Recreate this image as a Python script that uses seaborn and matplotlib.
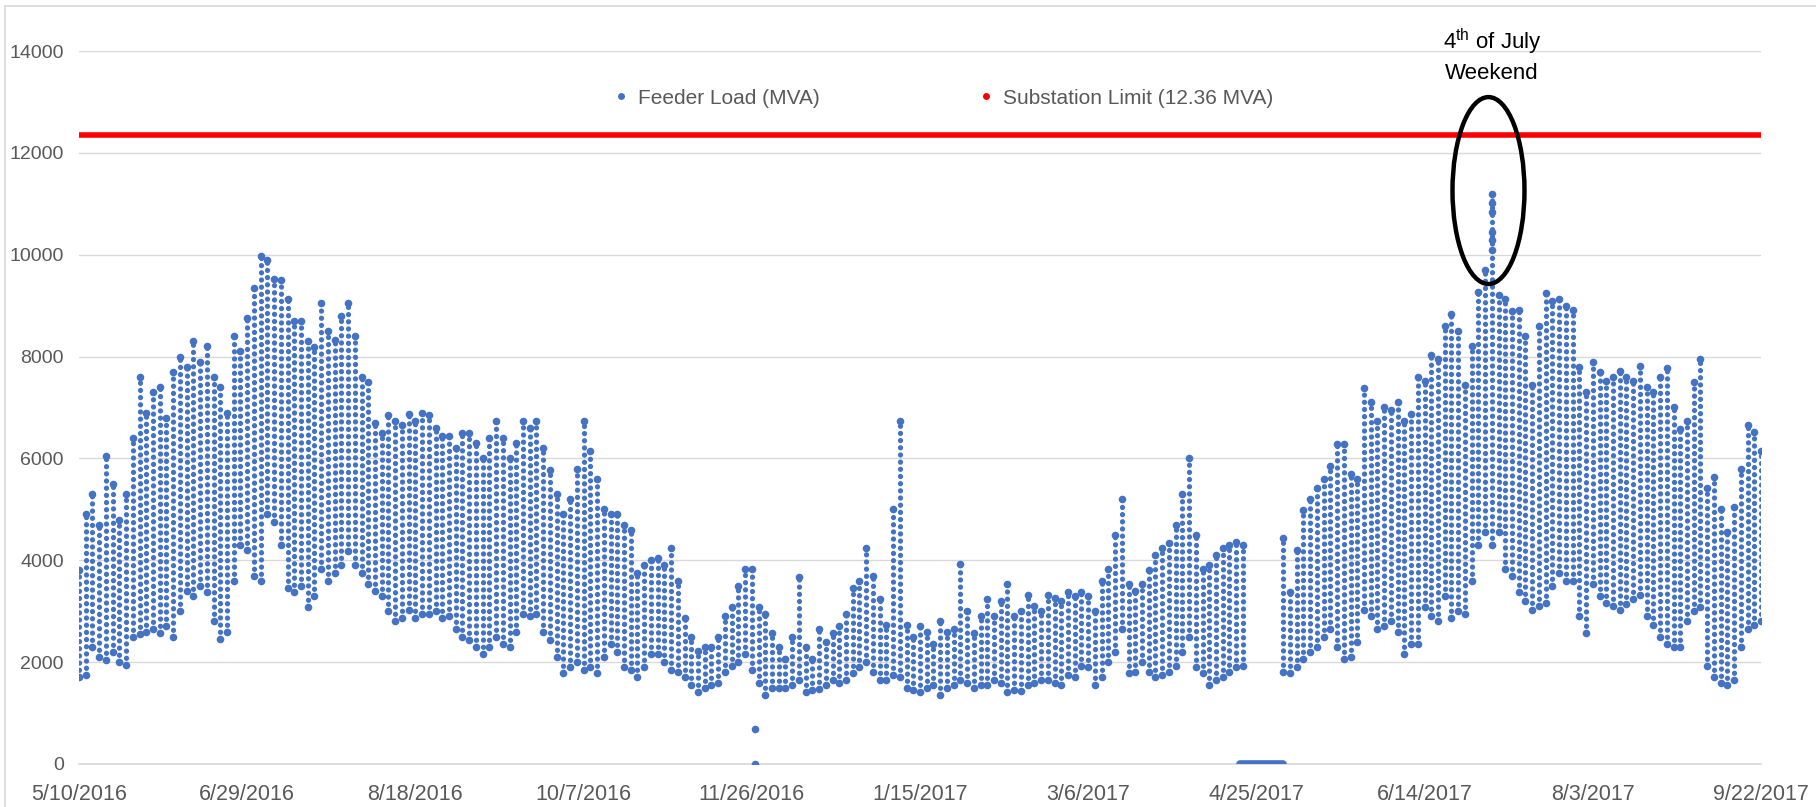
import numpy as np
import pandas as pd
import matplotlib
matplotlib.use("Agg")
import matplotlib.pyplot as plt
import matplotlib.dates as mdates
from matplotlib.patches import Ellipse
from matplotlib.lines import Line2D
import seaborn as sns

# feeder load, every 2 days from 5/10/2016 (daily high / daily low)
start_date = "2016-05-10"
load_high = [
    3800, 4900, 5300, 4700, 6050, 5500, 4800, 5300, 6400, 7600,
    6900, 7300, 7400, 6800, 7700, 8000, 7800, 8300, 7900, 8200,
    7600, 7400, 6900, 8400, 8100, 8760, 9350, 9980, 9900, 9530,
    9500, 9130, 8700, 8690, 8300, 8180, 9050, 8500, 8330, 8800,
    9050, 8400, 7600, 7500, 6700, 6500, 6850, 6730, 6650, 6870,
    6730, 6900, 6850, 6600, 6450, 6440, 6200, 6500, 6500, 6300,
    6000, 6400, 6730, 6400, 6000, 6300, 6730, 6600, 6730, 6200,
    5780, 5300, 4900, 5200, 5800, 6730, 6150, 5600, 5000, 4900,
    4900, 4700, 4600, 3750, 3900, 4000, 4040, 3900, 4250, 3600,
    2870, 2500, 2220, 2300, 2290, 2500, 2900, 3090, 3500, 3820,
    3820, 3090, 2950, 2580, 2300, 2070, 2500, 3670, 2300, 2070,
    2650, 2400, 2580, 2700, 2950, 3450, 3600, 4250, 3700, 3240,
    2730, 5000, 6740, 2730, 2500, 2700, 2600, 2360, 2800, 2600,
    2650, 3930, 3000, 2580, 2900, 3240, 2900, 3200, 3530, 2900,
    3000, 3310, 3100, 3000, 3310, 3250, 3200, 3380, 3300, 3380,
    3300, 3010, 3600, 3820, 4500, 5200, 3530, 3400, 3530, 3800,
    4100, 4250, 4330, 4700, 5300, 6000, 4500, 3820, 3900, 4100,
    4250, 4300, 4360, 4300, np.nan, np.nan, np.nan, np.nan, np.nan, 4430,
    3380, 4200, 4980, 5200, 5420, 5600, 5850, 6290, 6290, 5700,
    5600, 7380, 7100, 6730, 7000, 6950, 7100, 6730, 6870, 7600,
    7530, 8040, 7960, 8600, 8840, 8500, 7450, 8200, 9270, 9700,
    11200, 9200, 9130, 8900, 8910, 8400, 7450, 8600, 9240, 9100,
    9130, 9000, 8910, 7800, 7310, 7890, 7700, 7530, 7600, 7710,
    7600, 7530, 7820, 7400, 7310, 7600, 7780, 7000, 6580, 6730,
    7500, 7960, 5420, 5640, 5000, 4550, 5050, 5800, 6650, 6510,
    6150,
]
load_low = [
    1700, 1750, 2300, 2100, 2050, 2200, 2000, 1950, 2500, 2550,
    2600, 2650, 2580, 2700, 2500, 3000, 3400, 3300, 3500, 3380,
    2800, 2450, 2600, 3600, 4300, 4200, 3700, 3600, 4900, 4760,
    4300, 3450, 3380, 3500, 3090, 3300, 3820, 3600, 3750, 3900,
    4180, 3900, 3750, 3530, 3400, 3300, 3000, 2800, 2870, 3020,
    2860, 2950, 2950, 3000, 2870, 2900, 2650, 2500, 2440, 2300,
    2150, 2300, 2500, 2350, 2290, 2600, 2950, 2900, 2950, 2600,
    2440, 2100, 1780, 1900, 2000, 1850, 1900, 1780, 2100, 2360,
    2200, 1900, 1850, 1710, 1900, 2150, 2150, 2000, 1850, 1800,
    1710, 1550, 1420, 1500, 1560, 1600, 1800, 1930, 2000, 2150,
    1850, 1600, 1350, 1490, 1500, 1490, 1550, 1640, 1420, 1450,
    1480, 1550, 1640, 1600, 1650, 1780, 1900, 2000, 1800, 1640,
    1640, 1750, 1700, 1500, 1450, 1420, 1500, 1550, 1350, 1500,
    1550, 1640, 1600, 1500, 1550, 1550, 1640, 1600, 1420, 1450,
    1430, 1550, 1600, 1640, 1640, 1600, 1560, 1750, 1700, 1930,
    1900, 1560, 1700, 2000, 2200, 2650, 1780, 1800, 2000, 1800,
    1710, 1750, 1800, 1930, 2200, 2500, 1900, 1780, 1560, 1650,
    1710, 1800, 1900, 1930, np.nan, np.nan, np.nan, np.nan, np.nan, 1800,
    1780, 1900, 2070, 2200, 2290, 2500, 2650, 2300, 2070, 2100,
    2400, 3020, 2900, 2650, 2700, 2800, 2600, 2150, 2360, 2360,
    3090, 2900, 2800, 3300, 2870, 3000, 2950, 3600, 4300, 4550,
    4300, 4550, 3820, 3700, 3380, 3200, 3020, 3100, 3160, 3500,
    3750, 3600, 3600, 2900, 2580, 3530, 3300, 3160, 3100, 3020,
    3150, 3240, 3310, 2900, 2730, 2500, 2360, 2300, 2290, 2800,
    3000, 3090, 1930, 1710, 1600, 1560, 1640, 2300, 2650, 2730,
    2800,
]
# isolated low readings and the metering outage (reads 0)
outlier_dates = ["2016-11-27", "2016-11-27"]
outlier_vals = [690, 0]
outage_start = "2017-04-20"
outage_end = "2017-05-03"
# 4th of July spike, extra readings inside the circle
spike_dates = ["2017-07-04"] * 5
spike_vals = [11010, 10830, 10450, 10290, 10090]

substation_limit = 12360
tick_dates = pd.date_range("2016-05-10", periods=11, freq="50D")

blue = "#4472C4"
grey = "#595959"
dates = pd.date_range(start_date, periods=len(load_high), freq="2D")

sns.set_theme(style="white")
plt.rcParams["font.family"] = ["Liberation Sans", "DejaVu Sans"]

fig = plt.figure(figsize=(18.16, 8.07), dpi=100)
ax = fig.add_axes([0.0435, 0.0533, 0.9262, 0.8835])

# daily spread as columns of dots, plus the daily extremes
lc = ax.vlines(dates, load_low, load_high, colors=blue, linewidth=3.8,
               linestyles=[(0, (0.01, 1.35))])
lc.set_capstyle("round")
df = pd.DataFrame({"date": list(dates) * 2, "load": load_high + load_low})
sns.scatterplot(data=df, x="date", y="load", ax=ax, color=blue, s=30,
                linewidth=0, zorder=3)
sns.scatterplot(x=pd.to_datetime(outlier_dates + spike_dates), y=outlier_vals + spike_vals,
                ax=ax, color=blue, s=30, linewidth=0, zorder=3)
ax.hlines(0, pd.Timestamp(outage_start), pd.Timestamp(outage_end), colors=blue,
          linewidth=5.5, capstyle="round", zorder=3)

ax.axhline(substation_limit, color="#FF0000", linewidth=4, zorder=4)

ax.set_xlim(tick_dates[0], tick_dates[-1])
ax.set_ylim(0, 14000)
ax.set_yticks(range(0, 14001, 2000))
ax.set_xticks(tick_dates)
ax.set_xticklabels([f"{d.month}/{d.day}/{d.year}" for d in tick_dates])
ax.grid(axis="y", color="#D9D9D9", linewidth=1)
ax.set_axisbelow(True)
for s in ["top", "right", "left"]:
    ax.spines[s].set_visible(False)
ax.spines["bottom"].set_color("#D9D9D9")
ax.tick_params(axis="x", colors="#D9D9D9", labelcolor=grey, labelsize=15.5,
               length=5, direction="inout", pad=12)
ax.tick_params(axis="y", labelcolor=grey, labelsize=14, length=0, pad=11)
ax.set_xlabel("")
ax.set_ylabel("")

handles = [
    Line2D([], [], linestyle="none", marker="o", markersize=5, markerfacecolor=blue,
           markeredgewidth=0),
    Line2D([], [], linestyle="none", marker="o", markersize=5, markerfacecolor="#FF0000",
           markeredgewidth=0),
]
ax.legend(handles, ["Feeder Load (MVA)", "Substation Limit (12.36 MVA)"], ncol=2,
          loc="center", bbox_to_anchor=(0.513, 0.934), frameon=False, fontsize=15,
          labelcolor=grey, columnspacing=7.5, handletextpad=0.3, handlelength=1)

# callout for the holiday weekend
ax.add_patch(Ellipse((mdates.date2num(pd.Timestamp("2017-07-03")), 11260), width=21.4,
                     height=3670, fill=False, edgecolor="black", linewidth=3.2, zorder=5))
ax.text(pd.Timestamp("2017-07-04"), 13910, "4$^{\\mathregular{th}}$ of July\nWeekend",
        ha="center", va="center", fontsize=16, color="black", linespacing=1.35,
        clip_on=False)

fig.add_artist(Line2D([0.003, 0.003], [0, 0.992], color="#D9D9D9", linewidth=1.2))
fig.add_artist(Line2D([0.003, 1], [0.992, 0.992], color="#D9D9D9", linewidth=1.2))

fig.savefig("out.png", dpi=100)
